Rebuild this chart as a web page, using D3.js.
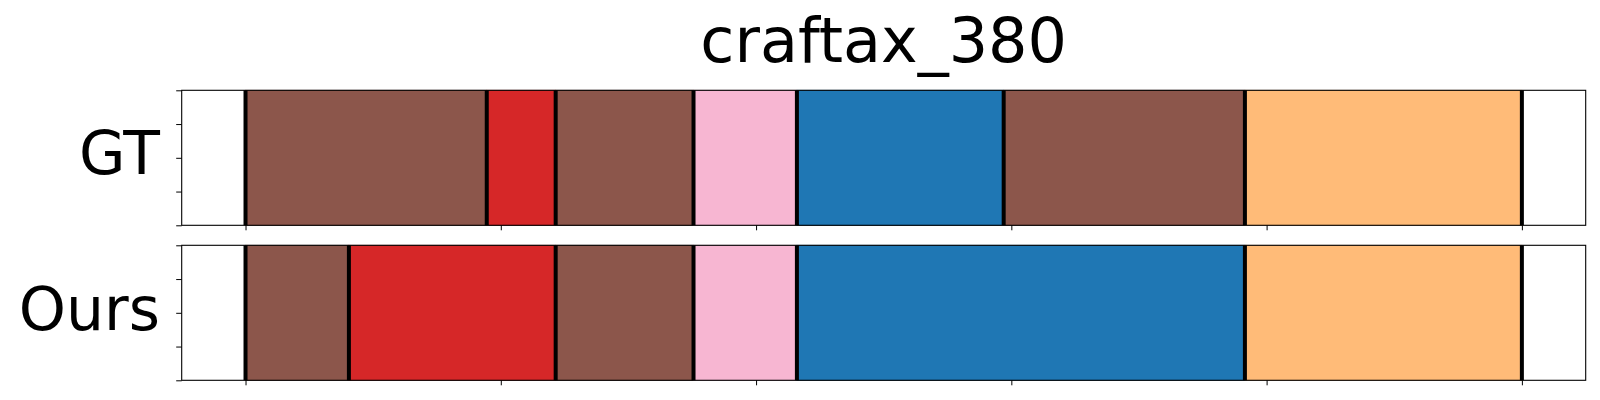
<!DOCTYPE html>
<html>
<head>
<meta charset="utf-8">
<script src="https://cdn.jsdelivr.net/npm/d3@7"></script>
<style>
  html, body { margin: 0; padding: 0; background: #fff; }
  svg { display: block; }
  text { font-family: "DejaVu Sans", sans-serif; fill: #000; }
</style>
</head>
<body>
<svg id="chart" width="1600" height="400"></svg>
<script>
// ---- data ----
const title = "craftax_380";
const rowNames = ["GT", "Ours"];
// segment boundaries (frame index) and segment classes per row
const gtBounds = [0, 94.5, 121.5, 175.5, 216, 297, 391.5, 500];
const gtClasses = ["brown", "red", "brown", "pink", "blue", "brown", "orange"];
const oursBounds = [0, 40.5, 121.5, 175.5, 216, 391.5, 500];
const oursClasses = ["brown", "red", "brown", "pink", "blue", "orange"];
const classNames = ["brown", "red", "pink", "blue", "orange"];
const classColors = ["#8c564b", "#d62728", "#f7b6d2", "#1f77b4", "#ffbb78"];
const xTicks = [0, 100, 200, 300, 400, 500];
const yTicks = [0, 0.25, 0.5, 0.75, 1];
const xDomain = [-25, 525];

// ---- layout ----
const svg = d3.select("#chart");
const left = 181.7, right = 1585.7;
const panels = [
  { name: rowNames[0], bounds: gtBounds, classes: gtClasses, top: 90.3, bottom: 225.3, labelY: 173.5 },
  { name: rowNames[1], bounds: oursBounds, classes: oursClasses, top: 245.3, bottom: 380.3, labelY: 329.5 }
];

const x = d3.scaleLinear().domain(xDomain).range([left, right]);
const color = d3.scaleOrdinal().domain(classNames).range(classColors);

svg.append("text")
  .attr("x", (left + right) / 2)
  .attr("y", 62.3)
  .attr("text-anchor", "middle")
  .style("font-size", "62px")
  .text(title);

panels.forEach(p => {
  const y = d3.scaleLinear().domain([0, 1]).range([p.bottom, p.top]);
  const g = svg.append("g");
  const segs = p.classes.map((c, i) => ({ c, s: p.bounds[i], e: p.bounds[i + 1] }));

  g.selectAll("rect.seg").data(segs).enter().append("rect")
    .attr("class", "seg")
    .attr("x", d => x(d.s))
    .attr("width", d => x(d.e) - x(d.s))
    .attr("y", y(1))
    .attr("height", y(0) - y(1))
    .attr("fill", d => color(d.c))
    .attr("stroke", d => d3.color(color(d.c)).darker(0.3))
    .attr("stroke-width", 0.8);

  g.selectAll("line.bnd").data(p.bounds).enter().append("line")
    .attr("class", "bnd")
    .attr("x1", d => x(d)).attr("x2", d => x(d))
    .attr("y1", y(1)).attr("y2", y(0))
    .attr("stroke", "#000")
    .attr("stroke-width", 4);

  // axes
  const xa = g.append("g")
    .attr("transform", `translate(0,${p.bottom})`)
    .call(d3.axisBottom(x).tickValues(xTicks).tickSize(5).tickFormat(""));
  const ya = g.append("g")
    .attr("transform", `translate(${left},0)`)
    .call(d3.axisLeft(y).tickValues(yTicks).tickSize(5.5).tickFormat(""));
  [xa, ya].forEach(a => {
    a.select(".domain").remove();
    a.selectAll(".tick line").attr("stroke", "#000").attr("stroke-width", 1);
  });

  // frame
  g.append("rect")
    .attr("x", left).attr("y", p.top)
    .attr("width", right - left).attr("height", p.bottom - p.top)
    .attr("fill", "none").attr("stroke", "#000").attr("stroke-width", 1.1);

  svg.append("text")
    .attr("x", 160)
    .attr("y", p.labelY)
    .attr("text-anchor", "end")
    .style("font-size", "60px")
    .text(p.name);
});
</script>
</body>
</html>
